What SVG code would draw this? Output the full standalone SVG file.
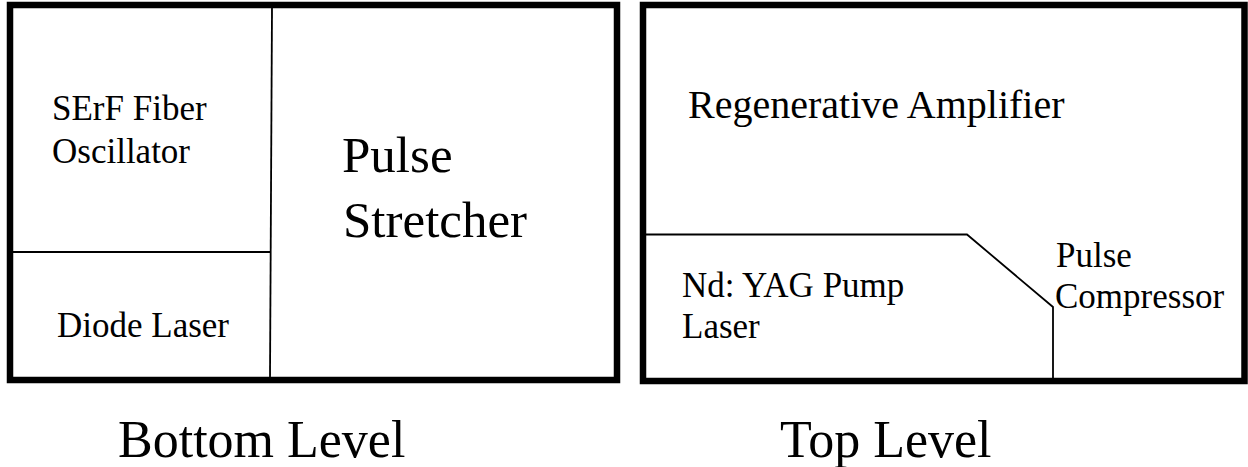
<svg xmlns="http://www.w3.org/2000/svg" width="1248" height="467" viewBox="0 0 1248 467">
<style>
.box{fill:#fff;stroke:#000;stroke-width:6.5}
.ln{fill:none;stroke:#000;stroke-width:1.8}
.t{fill:#000;font-family:'Liberation Serif','Times New Roman',Times,serif}
.s{font-size:35px}
.m{font-size:40px}
.b{font-size:51px}
.c{font-size:52px}
</style>
<rect width="1248" height="467" fill="#fff"/>
<g id="bottom-level">
<rect class="box" x="10" y="5" width="607" height="375"/>
</g>
<g id="top-level">
<rect class="box" x="643" y="5" width="601.5" height="376"/>
</g>
<g id="connectors">
<line class="ln" x1="272" y1="8" x2="270" y2="377"/>
<line class="ln" x1="13" y1="252" x2="270" y2="252"/>
<polyline class="ln" points="646,234.5 967,234.5 1053,307 1053,378"/>
</g>
<g id="serf">
<text class="t s" x="52" y="120">SErF Fiber</text>
<text class="t s" x="52" y="163">Oscillator</text>
</g>
<g id="diode">
<text class="t s" x="57" y="337">Diode Laser</text>
</g>
<g id="stretcher">
<text class="t b" x="342" y="172">Pulse</text>
<text class="t b" x="343" y="237">Stretcher</text>
</g>
<g id="regen">
<text class="t m" x="688" y="118">Regenerative Amplifier</text>
</g>
<g id="ndyag">
<text class="t s" x="682" y="297">Nd: YAG Pump</text>
<text class="t s" x="682" y="338">Laser</text>
</g>
<g id="compressor">
<text class="t s" x="1056" y="267">Pulse</text>
<text class="t s" x="1055" y="308">Compressor</text>
</g>
<g id="labels">
<text class="t c" x="118" y="457">Bottom Level</text>
<text class="t c" x="780" y="457">Top Level</text>
</g>
</svg>
